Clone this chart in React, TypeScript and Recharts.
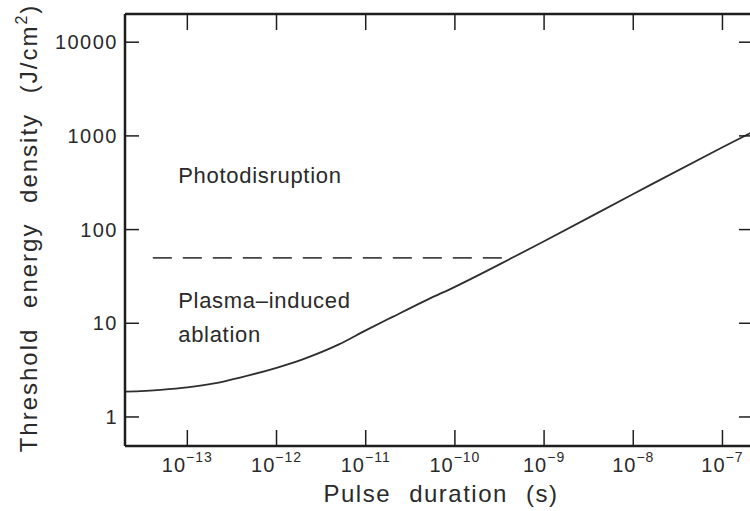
import { LineChart, Line, XAxis, YAxis, ReferenceLine, ReferenceDot } from "recharts";

// threshold curve (pulse duration in s, fluence in J/cm2)
const pulseDurations = [2e-14, 5e-14, 1e-13, 2e-13, 4e-13, 1e-12, 2e-12, 5e-12, 1e-11, 2e-11, 5e-11, 1e-10, 4.5e-10, 1e-9, 1e-8, 1e-7, 2.2e-7];
const thresholdEnergy = [1.86, 1.95, 2.07, 2.28, 2.65, 3.35, 4.15, 5.95, 8.4, 11.7, 18, 24.5, 50.6, 75, 240, 757, 1110];

const xTicks = [1e-13, 1e-12, 1e-11, 1e-10, 1e-9, 1e-8, 1e-7];
const yTicks = [1, 10, 100, 1000, 10000];
const xDomain = [2e-14, 2.2e-7];
const yDomain = [0.49, 20000];

// dashed boundary between the two regimes
const boundaryEnergy = 50;
const boundaryFrom = 4.1e-14;
const boundaryTo = 3.8e-10;

const photodisruptionLabel = { t: 7.9e-14, e: 314, lines: ["Photodisruption"] };
const ablationLabel = { t: 7.9e-14, e: 14.6, lines: ["Plasma–induced", "ablation"] };

const data = pulseDurations.map((t, i) => ({ t, e: thresholdEnergy[i] }));

const font = "'Liberation Sans', Arial, sans-serif";
const ink = "#2a2a2a";
const frame = "#1e1e1e";

// layout: plot box edges follow from these
const W = 770;
const H = 511;
const margin = { top: 13, right: 16, left: 0, bottom: 0 };
const leftW = 125;
const rightW = 1;
const topH = 1;
const bottomH = 65;
const plotLeft = margin.left + leftW;
const plotRight = W - margin.right - rightW;
const plotTop = margin.top + topH;
const plotBottom = H - margin.bottom - bottomH;

// ticks point into the plot on all four sides, so the marks are drawn here
const BottomTick = ({ x, payload }: any) => {
  const exp = Math.round(Math.log10(payload.value));
  return (
    <g>
      <line x1={x} y1={plotBottom} x2={x} y2={plotBottom - 16} stroke={frame} strokeWidth={1.5} />
      <line x1={x} y1={plotTop} x2={x} y2={plotTop + 16} stroke={frame} strokeWidth={1.5} />
      <text x={x} y={plotBottom + 26} textAnchor="middle" fontFamily={font} fontSize={20} fill={ink} letterSpacing={1}>
        10
        <tspan dy={-10} fontSize={14}>
          {"−" + Math.abs(exp)}
        </tspan>
      </text>
    </g>
  );
};

const LeftTick = ({ y, payload }: any) => (
  <g>
    <line x1={plotLeft} y1={y} x2={plotLeft + 14} y2={y} stroke={frame} strokeWidth={1.5} />
    <line x1={plotRight} y1={y} x2={plotRight - 14} y2={y} stroke={frame} strokeWidth={1.5} />
    <text x={plotLeft - 7} y={y} dy={7} textAnchor="end" fontFamily={font} fontSize={20} fill={ink} letterSpacing={1.5}>
      {payload.value}
    </text>
  </g>
);

const XTitle = () => (
  <text
    x={(plotLeft + plotRight) / 2 + 2}
    y={plotBottom + 56}
    textAnchor="middle"
    fontFamily={font}
    fontSize={24}
    fill={ink}
    letterSpacing={1.5}
    wordSpacing={10}
  >
    Pulse duration (s)
  </text>
);

const YTitle = () => {
  const cx = 37;
  const cy = (plotTop + plotBottom) / 2 - 2;
  return (
    <text
      x={cx}
      y={cy}
      transform={`rotate(-90 ${cx} ${cy})`}
      textAnchor="middle"
      fontFamily={font}
      fontSize={24}
      fill={ink}
      letterSpacing={2}
      wordSpacing={11}
    >
      Threshold energy density (J/cm
      <tspan dy={-10} fontSize={16}>2</tspan>
      <tspan dy={10}>)</tspan>
    </text>
  );
};

const regionText = (lines: string[]) => ({ viewBox }: any) => {
  const x = viewBox.x + viewBox.width / 2;
  const y = viewBox.y + viewBox.height / 2;
  return (
    <text x={x} y={y} fontFamily={font} fontSize={22} fill={ink} letterSpacing={0.7}>
      {lines.map((l, i) => (
        <tspan key={i} x={x} dy={i === 0 ? 0 : 34}>
          {l}
        </tspan>
      ))}
    </text>
  );
};

const axisLine = { stroke: frame, strokeWidth: 2.5 };

export default function App() {
  return (
    <div style={{ position: "absolute", left: 0, top: 0, width: 750, height: 511, overflow: "hidden", background: "#fff" }}>
      <LineChart width={W} height={H} data={data} margin={margin}>
        <XAxis
          xAxisId="bottom"
          dataKey="t"
          type="number"
          scale="log"
          domain={xDomain}
          allowDataOverflow
          ticks={xTicks}
          interval={0}
          tick={<BottomTick />}
          tickLine={false}
          axisLine={axisLine}
          height={bottomH}
          label={XTitle}
        />
        <XAxis
          xAxisId="top"
          orientation="top"
          type="number"
          scale="log"
          domain={xDomain}
          allowDataOverflow
          tick={false}
          tickLine={false}
          axisLine={axisLine}
          height={topH}
        />
        <YAxis
          yAxisId="left"
          type="number"
          scale="log"
          domain={yDomain}
          allowDataOverflow
          ticks={yTicks}
          interval={0}
          tick={<LeftTick />}
          tickLine={false}
          axisLine={axisLine}
          width={leftW}
          label={YTitle}
        />
        <YAxis
          yAxisId="right"
          orientation="right"
          type="number"
          scale="log"
          domain={yDomain}
          allowDataOverflow
          tick={false}
          tickLine={false}
          axisLine={axisLine}
          width={rightW}
        />
        <ReferenceLine
          xAxisId="bottom"
          yAxisId="left"
          segment={[
            { x: boundaryFrom, y: boundaryEnergy },
            { x: boundaryTo, y: boundaryEnergy },
          ]}
          stroke="#444"
          strokeWidth={1.8}
          strokeDasharray="19 11"
        />
        <Line
          xAxisId="bottom"
          yAxisId="left"
          type="monotone"
          dataKey="e"
          stroke="#2e2e2e"
          strokeWidth={1.8}
          dot={false}
          isAnimationActive={false}
        />
        <ReferenceDot
          xAxisId="bottom"
          yAxisId="left"
          x={photodisruptionLabel.t}
          y={photodisruptionLabel.e}
          r={1}
          fill="none"
          stroke="none"
          label={regionText(photodisruptionLabel.lines)}
        />
        <ReferenceDot
          xAxisId="bottom"
          yAxisId="left"
          x={ablationLabel.t}
          y={ablationLabel.e}
          r={1}
          fill="none"
          stroke="none"
          label={regionText(ablationLabel.lines)}
        />
      </LineChart>
    </div>
  );
}
